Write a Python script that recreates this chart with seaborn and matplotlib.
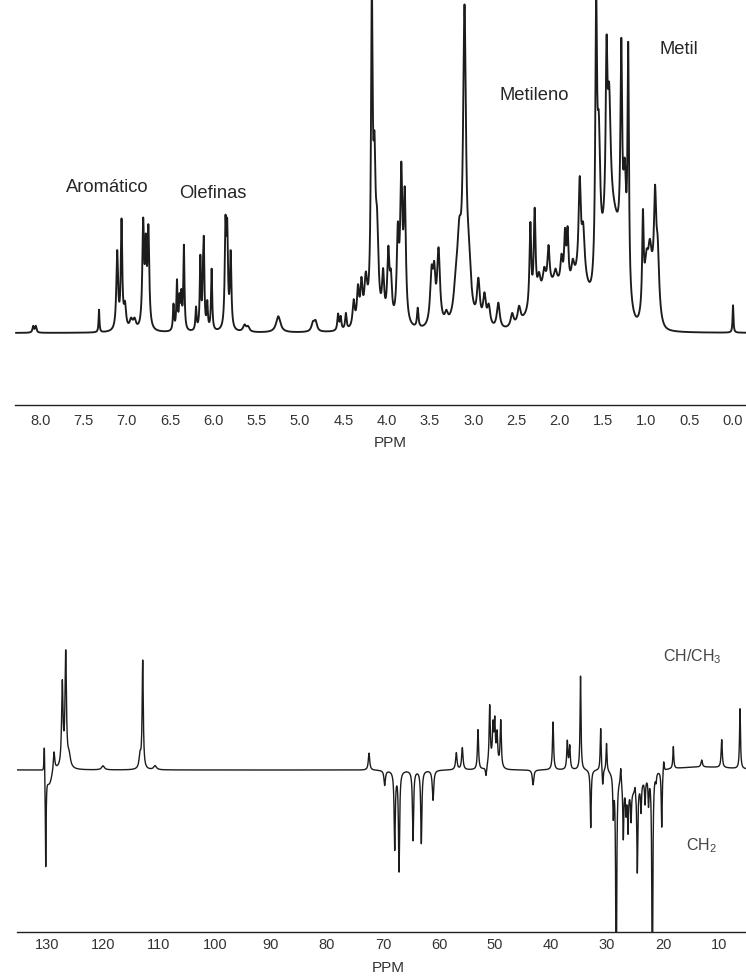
import numpy as np
import pandas as pd
import matplotlib
matplotlib.use("Agg")
import matplotlib.pyplot as plt
from matplotlib.ticker import MultipleLocator, FormatStrFormatter
import seaborn as sns

sns.set_theme(style="white")
plt.rcParams["font.family"] = ["Liberation Sans", "DejaVu Sans"]
plt.rcParams["mathtext.default"] = "regular"

# --- 1H spectrum: narrow lines (ppm, height, half width)
h1_pos = [8.08, 8.05, 7.32, 7.11, 7.06, 7.02, 6.95, 6.91, 6.81, 6.78, 6.75,
          6.46, 6.42, 6.39, 6.37, 6.34, 6.20, 6.15, 6.12, 6.11, 6.07, 6.02,
          5.86, 5.84, 5.80, 5.64, 5.60, 5.25, 4.85, 4.82, 4.56, 4.53, 4.47,
          4.38, 4.33, 4.29, 4.24, 4.17, 4.14, 4.11, 4.04, 3.98, 3.95,
          3.87, 3.83, 3.79, 3.64, 3.48, 3.45, 3.40, 3.31,
          3.20, 3.16, 3.10, 3.05, 2.94, 2.87, 2.82, 2.71, 2.55, 2.47,
          2.34, 2.29, 2.24, 2.18, 2.13, 2.05, 1.98, 1.94, 1.91, 1.85, 1.77, 1.73,
          1.58, 1.55, 1.46, 1.43, 1.29, 1.25, 1.21,
          1.04, 1.00, 0.96, 0.90, 0.87, 0.00]
h1_height = [2, 2, 7, 24, 33, 7, 3, 3, 32, 22, 30,
             8, 15, 9, 10, 26, 7, 22, 11, 24, 8, 19,
             30, 28, 23, 2, 1.5, 5, 2.5, 3, 5, 4, 5,
             8, 11, 12, 13, 95, 40, 25, 14, 21, 12,
             26, 44, 38, 6, 16, 13, 23, 3,
             8, 22, 92, 15, 13, 9, 6, 8, 4, 5,
             26, 28, 6, 6, 12, 4, 8, 15, 16, 6, 28, 14,
             80, 40, 48, 35, 62, 30, 74,
             28, 8, 8, 29, 18, 8.5]
h1_width = [0.01, 0.01, 0.006, 0.012, 0.010, 0.015, 0.02, 0.02, 0.012, 0.01, 0.012,
            0.008, 0.008, 0.008, 0.008, 0.008, 0.008, 0.008, 0.008, 0.008, 0.008, 0.008,
            0.01, 0.01, 0.01, 0.02, 0.02, 0.03, 0.02, 0.02, 0.01, 0.01, 0.01,
            0.015, 0.015, 0.015, 0.02, 0.012, 0.015, 0.02, 0.015, 0.015, 0.015,
            0.015, 0.015, 0.015, 0.01, 0.02, 0.015, 0.02, 0.02,
            0.03, 0.03, 0.02, 0.03, 0.02, 0.02, 0.02, 0.02, 0.02, 0.02,
            0.012, 0.012, 0.02, 0.02, 0.015, 0.02, 0.015, 0.012, 0.012, 0.02, 0.015, 0.02,
            0.012, 0.02, 0.012, 0.02, 0.012, 0.02, 0.010,
            0.010, 0.02, 0.02, 0.015, 0.02, 0.006]
# broad humps under the aliphatic lines (ppm, height, sigma)
h1_hump_pos = [2.05, 1.75, 1.40, 0.96]
h1_hump_height = [14, 10, 34, 16]
h1_hump_sigma = [0.22, 0.08, 0.11, 0.06]

# --- 13C DEPT spectrum: positive = CH/CH3, negative = CH2
c13_pos = [130.48, 130.23, 128.75, 127.27, 126.66, 126.07, 120.0, 113.39, 112.91, 110.71,
           72.50, 69.70, 67.91, 67.14, 64.64, 63.16, 61.07, 56.91, 55.84, 53.04,
           51.61, 50.95, 50.36, 50.05, 49.64, 48.98, 43.21, 39.64, 37.09, 36.66,
           34.73, 32.91, 31.13, 30.77, 30.09, 28.88, 28.36, 27.55, 27.09, 26.61,
           26.25, 25.71, 25.00, 24.59, 23.93, 23.21, 22.59, 21.91, 21.25, 20.23,
           19.88, 18.16, 13.09, 9.52, 6.25]
c13_height = [32, -95, 19, 83, 113, 12, 4, 13, 108, 4,
              17, -15, -78, -100, -70, -73, -30, 17, 22, 40,
              -10, 58, 34, 38, 28, 46, -15, 48, 28, 23,
              94, -58, 43, -17, 28, -40, -230, 17, -55, -25,
              -42, -30, 8, -85, -28, -25, -28, -230, -8, -58,
              12, 22, 7, 28, 60]
c13_width = [0.08, 0.08, 0.15, 0.15, 0.15, 0.3, 0.3, 0.2, 0.12, 0.3,
             0.15, 0.15, 0.12, 0.12, 0.12, 0.12, 0.15, 0.15, 0.15, 0.12,
             0.12, 0.12, 0.12, 0.12, 0.12, 0.12, 0.15, 0.12, 0.12, 0.12,
             0.1, 0.1, 0.1, 0.1, 0.1, 0.1, 0.1, 0.1, 0.1, 0.1,
             0.1, 0.1, 0.1, 0.1, 0.1, 0.1, 0.1, 0.1, 0.1, 0.1,
             0.1, 0.1, 0.15, 0.12, 0.1]
c13_hump_pos = [129.6, 50.2, 25.5, 13.0]
c13_hump_height = [-14, 8, -20, 3]
c13_hump_sigma = [0.45, 0.8, 1.6, 5.0]


def spectrum(x, pos, height, width, hump_pos, hump_height, hump_sigma):
    y = np.zeros_like(x)
    for c, h, w in zip(pos, height, width):
        y += h / (1.0 + ((x - c) / w) ** 2)
    for c, h, s in zip(hump_pos, hump_height, hump_sigma):
        y += h * np.exp(-0.5 * ((x - c) / s) ** 2)
    return y


x_h1 = np.linspace(8.28, -0.15, 12000)
df_h1 = pd.DataFrame({"ppm": x_h1,
                      "i": spectrum(x_h1, h1_pos, h1_height, h1_width,
                                    h1_hump_pos, h1_hump_height, h1_hump_sigma)})
x_c13 = np.linspace(135.4, 5.18, 14000)
df_c13 = pd.DataFrame({"ppm": x_c13,
                       "i": spectrum(x_c13, c13_pos, c13_height, c13_width,
                                     c13_hump_pos, c13_hump_height, c13_hump_sigma)})

W, H = 746, 976
fig = plt.figure(figsize=(W / 100, H / 100), dpi=100)
ax1 = fig.add_axes([15 / W, 1 - 405 / H, 1 - 15 / W, 405 / H])
ax2 = fig.add_axes([17 / W, 1 - 932 / H, 1 - 17 / W, 332 / H])

line_col = "#1c1c1c"
sns.lineplot(data=df_h1, x="ppm", y="i", ax=ax1, color=line_col, lw=1.35,
             estimator=None, sort=False)
sns.lineplot(data=df_c13, x="ppm", y="i", ax=ax2, color=line_col, lw=1.0,
             estimator=None, sort=False)

ax1.set_xlim(8.29, -0.15)
ax1.set_ylim(-22.3, 103.1)
ax2.set_xlim(135.36, 5.18)
ax2.set_ylim(-162, 170)

tick_family = ["Liberation Sans Narrow", "Liberation Sans", "DejaVu Sans"]
for ax in (ax1, ax2):
    for s in ("top", "left", "right"):
        ax.spines[s].set_visible(False)
    ax.spines["bottom"].set_color("#222222")
    ax.spines["bottom"].set_linewidth(1.0)
    ax.set_yticks([])
    ax.set_xlabel("")
    ax.set_ylabel("")
    ax.patch.set_alpha(0)

ax1.xaxis.set_major_locator(MultipleLocator(0.5))
ax1.xaxis.set_minor_locator(MultipleLocator(0.1))
ax1.xaxis.set_major_formatter(FormatStrFormatter("%.1f"))
ax1.tick_params(axis="x", which="major", direction="out", length=4.5, width=1.0,
                pad=2, colors="#222222", labelcolor="#333333")
ax1.tick_params(axis="x", which="minor", direction="out", length=2.5, width=0.9,
                colors="#222222")

ax2.xaxis.set_major_locator(MultipleLocator(10))
ax2.xaxis.set_minor_locator(MultipleLocator(5))
ax2.xaxis.set_major_formatter(FormatStrFormatter("%d"))
ax2.tick_params(axis="x", which="major", direction="inout", length=5, width=1.0,
                pad=2, colors="#222222", labelcolor="#333333")
ax2.tick_params(axis="x", which="minor", direction="inout", length=3, width=1.0,
                colors="#222222")

for ax in (ax1, ax2):
    for lab in ax.get_xticklabels():
        lab.set_fontfamily(tick_family)
        lab.set_fontsize(10.5)

fig.text(390 / W, 1 - 443 / H, "PPM", ha="center", va="center",
         fontsize=11, color="#333333", family=tick_family)
fig.text(388 / W, 1 - 968 / H, "PPM", ha="center", va="center",
         fontsize=11, color="#333333", family=tick_family)

# region labels
fig.text(107 / W, 1 - 187 / H, "Aromático", ha="center", va="center", fontsize=13.2)
fig.text(213 / W, 1 - 193 / H, "Olefinas", ha="center", va="center", fontsize=13.2)
fig.text(534 / W, 1 - 95 / H, "Metileno", ha="center", va="center", fontsize=13.2)
fig.text(679 / W, 1 - 49 / H, "Metil", ha="center", va="center", fontsize=13.2)
fig.text(692 / W, 1 - 657 / H, "CH/CH$_3$", ha="center", va="center",
         fontsize=11.5, color="#444444")
fig.text(701 / W, 1 - 846 / H, "CH$_2$", ha="center", va="center",
         fontsize=11.5, color="#444444")

fig.savefig("out.png", dpi=100)
